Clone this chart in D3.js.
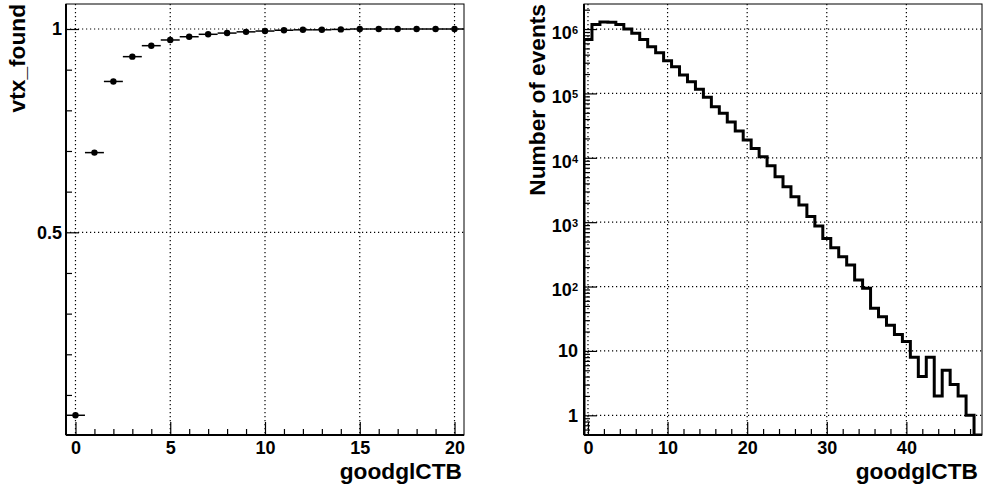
<!DOCTYPE html>
<html>
<head>
<meta charset="utf-8">
<script src="https://cdn.jsdelivr.net/npm/d3@7"></script>
<style>
body { margin: 0; background: #fff; }
svg { display: block; font-family: "Liberation Sans", Arial, Helvetica, sans-serif; font-weight: bold; }
.grid line { stroke: #000; stroke-width: 1.2; stroke-dasharray: 1.2, 2.8; }
.tick line { stroke: #000; stroke-width: 1.2; }
.tick text { font-size: 18px; fill: #000; }
.title { font-size: 22.7px; fill: #000; }
</style>
</head>
<body>
<svg></svg>
<script>
const WIDTH = 983;
const HEIGHT = 489;
const svg = d3.select('svg').attr('width', WIDTH).attr('height', HEIGHT);

// left pad: efficiency vs goodglCTB
const effX = [0, 1, 2, 3, 4, 5, 6, 7, 8, 9, 10, 11, 12, 13, 14, 15, 16, 17, 18, 19, 20];
const effY = [0.05, 0.696, 0.871, 0.932, 0.959, 0.973, 0.981, 0.987, 0.990, 0.993,
  0.995, 0.997, 0.998, 0.998, 0.999, 1.0, 1.0, 1.0, 1.0, 1.0, 1.0];
const effXTicks = [0, 5, 10, 15, 20];
const effYTicks = [0.5, 1];

// right pad: number of events per goodglCTB bin
const histX = [0, 1, 2, 3, 4, 5, 6, 7, 8, 9, 10, 11, 12, 13, 14, 15, 16, 17, 18, 19,
  20, 21, 22, 23, 24, 25, 26, 27, 28, 29, 30, 31, 32, 33, 34, 35, 36, 37, 38, 39,
  40, 41, 42, 43, 44, 45, 46, 47, 48, 49];
const histY = [690000, 1180000, 1290000, 1270000, 1180000, 1000000, 858000, 690000, 530000, 428000,
  322000, 260000, 193000, 152000, 116000, 87000, 62000, 49000, 36000, 26000,
  18900, 14000, 10400, 7500, 5080, 3550, 2490, 1850, 1220, 870,
  560, 400, 291, 216, 126, 94, 46, 34, 25, 18,
  14, 8, 4, 8, 2, 5, 3, 2, 1, 0];
const histXTicks = [0, 10, 20, 30, 40];
const histYTicks = [1, 10, 100, 1e3, 1e4, 1e5, 1e6];

const TOP = 4, BOTTOM = 435;

function frame(g, x0, x1) {
  g.append('rect')
    .attr('x', x0).attr('y', TOP)
    .attr('width', x1 - x0).attr('height', BOTTOM - TOP)
    .attr('fill', 'none').attr('stroke', '#000').attr('stroke-width', 1);
}

function axisLines(g, x0, x1) {
  g.append('line').attr('x1', x0).attr('x2', x1).attr('y1', BOTTOM).attr('y2', BOTTOM)
    .attr('stroke', '#000').attr('stroke-width', 2);
  g.append('line').attr('x1', x0).attr('x2', x0).attr('y1', TOP).attr('y2', BOTTOM)
    .attr('stroke', '#000').attr('stroke-width', 2);
}

// ---------- left pad ----------
const xL = d3.scaleLinear().domain([-0.5, 20.5]).range([66, 464]);
const yL = d3.scaleLinear().domain([0.0015, 1.0615]).range([BOTTOM, TOP]);
const left = svg.append('g');
frame(left, 66, 464);

const gridL = left.append('g').attr('class', 'grid');
gridL.selectAll('.v').data(effXTicks).enter().append('line')
  .attr('x1', d => xL(d)).attr('x2', d => xL(d)).attr('y1', TOP).attr('y2', BOTTOM);
gridL.selectAll('.h').data(effYTicks).enter().append('line')
  .attr('x1', 66).attr('x2', 464).attr('y1', d => yL(d)).attr('y2', d => yL(d));

const effXMinor = effX.filter(d => effXTicks.indexOf(d) < 0);
left.append('g').attr('transform', `translate(0,${BOTTOM})`)
  .call(d3.axisBottom(xL).tickValues(effXMinor).tickSize(-6).tickFormat(''))
  .call(g => g.select('.domain').remove());
left.append('g').attr('transform', `translate(0,${BOTTOM})`)
  .call(d3.axisBottom(xL).tickValues(effXTicks).tickSize(-13).tickPadding(6))
  .call(g => g.select('.domain').remove());

const effYMinor = [0.1, 0.2, 0.3, 0.4, 0.6, 0.7, 0.8, 0.9];
left.append('g').attr('transform', 'translate(66,0)')
  .call(d3.axisLeft(yL).tickValues(effYMinor).tickSize(-6).tickFormat(''))
  .call(g => g.select('.domain').remove());
left.append('g').attr('transform', 'translate(66,0)')
  .call(d3.axisLeft(yL).tickValues(effYTicks).tickSize(-13).tickPadding(4).tickFormat(d => String(d)))
  .call(g => g.select('.domain').remove());

axisLines(left, 66, 464);

const pts = effX.map((x, i) => ({x: x, y: effY[i]}));
left.append('g').selectAll('line').data(pts).enter().append('line')
  .attr('x1', d => xL(d.x - 0.5)).attr('x2', d => xL(d.x + 0.5))
  .attr('y1', d => yL(d.y)).attr('y2', d => yL(d.y))
  .attr('stroke', '#000').attr('stroke-width', 1.5);
left.append('g').selectAll('circle').data(pts).enter().append('circle')
  .attr('cx', d => xL(d.x)).attr('cy', d => yL(d.y)).attr('r', 3.2).attr('fill', '#000');

left.append('text').attr('class', 'title')
  .attr('text-anchor', 'end').attr('x', 462).attr('y', 479).text('goodglCTB');
left.append('text').attr('class', 'title')
  .attr('text-anchor', 'end').attr('transform', 'translate(25,4) rotate(-90)').text('vtx_found');

// ---------- right pad ----------
const xR = d3.scaleLinear().domain([-0.5, 49.5]).range([584, 982]);
const yR = d3.scaleLog().domain([0.494, 2.45e6]).range([BOTTOM, TOP]);
const right = svg.append('g');
frame(right, 584, 982);

const gridR = right.append('g').attr('class', 'grid');
gridR.selectAll('.v').data(histXTicks).enter().append('line')
  .attr('x1', d => xR(d)).attr('x2', d => xR(d)).attr('y1', TOP).attr('y2', BOTTOM);
gridR.selectAll('.h').data(histYTicks).enter().append('line')
  .attr('x1', 584).attr('x2', 982).attr('y1', d => yR(d)).attr('y2', d => yR(d));

const histXMinor = [2, 4, 6, 8, 12, 14, 16, 18, 22, 24, 26, 28, 32, 34, 36, 38, 42, 44, 46, 48];
right.append('g').attr('transform', `translate(0,${BOTTOM})`)
  .call(d3.axisBottom(xR).tickValues(histXMinor).tickSize(-6).tickFormat(''))
  .call(g => g.select('.domain').remove());
right.append('g').attr('transform', `translate(0,${BOTTOM})`)
  .call(d3.axisBottom(xR).tickValues(histXTicks).tickSize(-13).tickPadding(6))
  .call(g => g.select('.domain').remove());

const logMinor = [];
[0.1, 1, 10, 100, 1e3, 1e4, 1e5, 1e6].forEach(dec => {
  [2, 3, 4, 5, 6, 7, 8, 9].forEach(m => {
    const v = m * dec;
    if (v >= 0.494 && v <= 2.45e6) logMinor.push(v);
  });
});
right.append('g').attr('transform', 'translate(584,0)')
  .call(d3.axisLeft(yR).tickValues(logMinor).tickSize(-6).tickFormat(''))
  .call(g => g.select('.domain').remove());
right.append('g').attr('transform', 'translate(584,0)')
  .call(d3.axisLeft(yR).tickValues(histYTicks).tickSize(-13).tickPadding(6).tickFormat(''))
  .call(g => g.select('.domain').remove())
  .call(g => g.selectAll('.tick text').each(function (d) {
    const t = d3.select(this);
    const e = Math.round(Math.log10(d));
    if (e < 2) {
      t.text(String(d));
    } else {
      t.attr('dy', '0.52em');
      t.append('tspan').text('10');
      t.append('tspan').attr('font-size', '11px').attr('dy', '-5').text(String(e));
    }
  }));

axisLines(right, 584, 982);

right.append('clipPath').attr('id', 'clipR')
  .append('rect').attr('x', 584).attr('y', TOP).attr('width', 398).attr('height', BOTTOM - TOP);
const ymin = yR.domain()[0];
const steps = [[histX[0] - 0.5, ymin]];
histX.forEach((x, i) => {
  const v = Math.max(histY[i], ymin);
  steps.push([x - 0.5, v], [x + 0.5, v]);
});
steps.push([histX[histX.length - 1] + 0.5, ymin]);
right.append('path')
  .attr('clip-path', 'url(#clipR)')
  .attr('d', d3.line().x(d => xR(d[0])).y(d => yR(d[1]))(steps))
  .attr('fill', 'none').attr('stroke', '#000').attr('stroke-width', 3)
  .attr('stroke-linejoin', 'miter');

right.append('text').attr('class', 'title')
  .attr('text-anchor', 'end').attr('x', 978).attr('y', 479).text('goodglCTB');
right.append('text').attr('class', 'title')
  .attr('text-anchor', 'end').attr('transform', 'translate(545,4) rotate(-90)').text('Number of events');
</script>
</body>
</html>
